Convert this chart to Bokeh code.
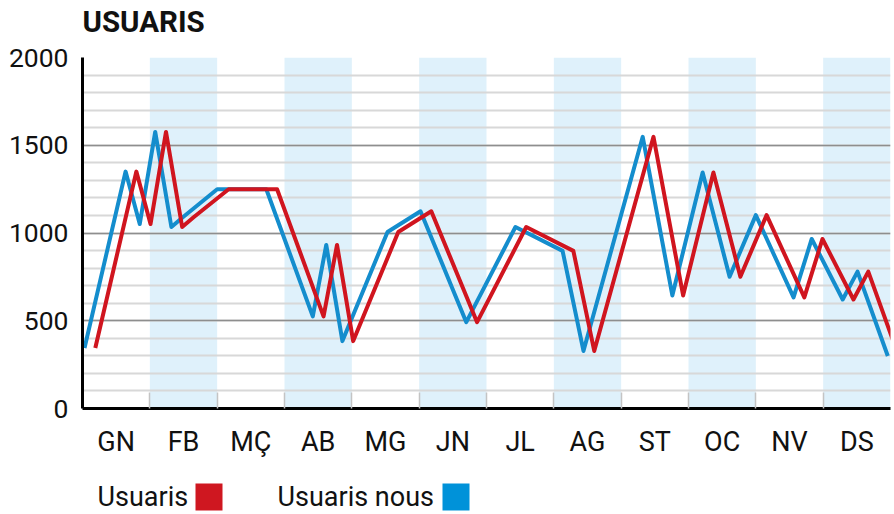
from bokeh.plotting import figure
from bokeh.models import Range1d, FixedTicker, SingleIntervalTicker
from bokeh.layouts import column
from bokeh.core.properties import value
from bokeh.embed import file_html
from bokeh.resources import INLINE

# ---- data -------------------------------------------------------------
months = ["GN", "FB", "MÇ", "AB", "MG", "JN", "JL", "AG", "ST", "OC", "NV", "DS"]

# position along the year (in months from 1 January)
x_nous = [0.03, 0.64, 0.85, 1.08, 1.32, 1.49, 2.00, 2.73, 3.42, 3.62, 3.86, 4.53, 5.02, 5.70,
          6.43, 7.13, 7.44, 8.32, 8.76, 9.21, 9.61, 10.00, 10.56, 10.83, 11.29, 11.51, 11.96]
y_nous = [345, 1350, 1051, 1576, 1034, 1090, 1249, 1249, 525, 932, 384, 1006, 1124, 492,
          1034, 898, 328, 1548, 644, 1345, 751, 1102, 633, 966, 621, 780, 299]

x_usuaris = [0.19, 0.80, 1.01, 1.24, 1.48, 1.65, 2.17, 2.89, 3.58, 3.78, 4.02, 4.69, 5.18, 5.86,
             6.59, 7.29, 7.60, 8.48, 8.92, 9.37, 9.77, 10.16, 10.72, 10.99, 11.45, 11.67, 12.12]
y_usuaris = [345, 1350, 1051, 1576, 1034, 1090, 1249, 1249, 525, 932, 384, 1006, 1124, 492,
             1034, 898, 328, 1548, 644, 1345, 751, 1102, 633, 966, 621, 780, 299]

title_text = "USUARIS"
series_names = ["Usuaris", "Usuaris nous"]

RED = "#d0151f"
BLUE = "#148dcd"
BAND = "#dff1fb"
FONT = "Roboto"
W = 894
LEFT = 82
RIGHT = 4
TH = 41

# ---- title strip (frame aligned with the chart frame) ------------------
tf = figure(width=W, height=TH, x_range=Range1d(LEFT, W - RIGHT), y_range=Range1d(TH, 0),
            output_backend="svg", toolbar_location=None, x_axis_type=None, y_axis_type=None,
            min_border_left=LEFT, min_border_right=RIGHT, min_border_top=0, min_border_bottom=0)
tf.outline_line_color = None
tf.grid.visible = False
tf.text(x=[82], y=[21], text=[title_text], text_baseline="middle", text_align="left",
        text_font=value(FONT), text_font_style="bold", text_font_size="29.5px",
        text_color="#111111")

# ---- main chart -------------------------------------------------------
p = figure(width=W, height=460 - TH, x_range=Range1d(0, 12), y_range=Range1d(0, 2000),
           output_backend="svg", toolbar_location=None,
           min_border_left=LEFT, min_border_right=RIGHT, min_border_top=57 - TH,
           min_border_bottom=49)
p.outline_line_color = None

band_idx = [i for i in range(len(months)) if i % 2 == 1]
p.vbar(x=[i + 0.5 for i in band_idx], width=1, top=2000, bottom=0,
       fill_color=BAND, line_color=None, level="image")

p.line(x_nous, y_nous, line_color=BLUE, line_width=4, line_join="round")
p.line(x_usuaris, y_usuaris, line_color=RED, line_width=4, line_join="round")

# x axis
p.xaxis.ticker = FixedTicker(ticks=[i + 0.5 for i in range(12)], minor_ticks=list(range(1, 12)))
p.xaxis.major_label_overrides = {i + 0.5: m for i, m in enumerate(months)}
p.xaxis.major_tick_line_color = None
p.xaxis.minor_tick_in = 16
p.xaxis.minor_tick_out = 0
p.xaxis.minor_tick_line_color = "#c4c4c4"
p.xaxis.minor_tick_line_width = 1.5
p.xaxis.axis_line_color = "black"
p.xaxis.axis_line_width = 3
p.xaxis.major_label_text_font = FONT
p.xaxis.major_label_text_font_size = "27px"
p.xaxis.major_label_text_color = "#111111"
p.xaxis.major_label_standoff = 11
p.xgrid.visible = False

# y axis
p.yaxis.ticker = SingleIntervalTicker(interval=500, num_minor_ticks=5)
p.yaxis.major_tick_in = 0
p.yaxis.major_tick_out = 0
p.yaxis.minor_tick_in = 0
p.yaxis.minor_tick_out = 0
p.yaxis.axis_line_color = "black"
p.yaxis.axis_line_width = 3
p.yaxis.major_label_text_font = FONT
p.yaxis.major_label_text_font_size = "26.5px"
p.yaxis.major_label_text_color = "#111111"
p.yaxis.major_label_standoff = 14
p.ygrid.grid_line_color = "#8e8e8e"
p.ygrid.grid_line_width = 1.5
p.ygrid.minor_grid_line_color = "#d8d8d8"
p.ygrid.minor_grid_line_width = 2

# ---- legend strip (frame aligned with the chart frame) -----------------
lf = figure(width=W, height=54, x_range=Range1d(LEFT, W - RIGHT), y_range=Range1d(54, 0),
            output_backend="svg", toolbar_location=None, x_axis_type=None, y_axis_type=None,
            min_border_left=LEFT, min_border_right=RIGHT, min_border_top=0, min_border_bottom=0)
lf.outline_line_color = None
lf.grid.visible = False
lf.text(x=[97, 277], y=[36, 36], text=series_names, text_baseline="middle",
        text_align="left", text_font=value(FONT), text_font_size="27px", text_color="#111111")
lf.rect(x=[208.5, 455.5], y=[36.5, 36.5], width=27, height=27,
        fill_color=["#cf1720", "#0092d9"], line_color=None)

layout = column(tf, p, lf, spacing=0)
open("out.html", "w").write(file_html(layout, INLINE))
